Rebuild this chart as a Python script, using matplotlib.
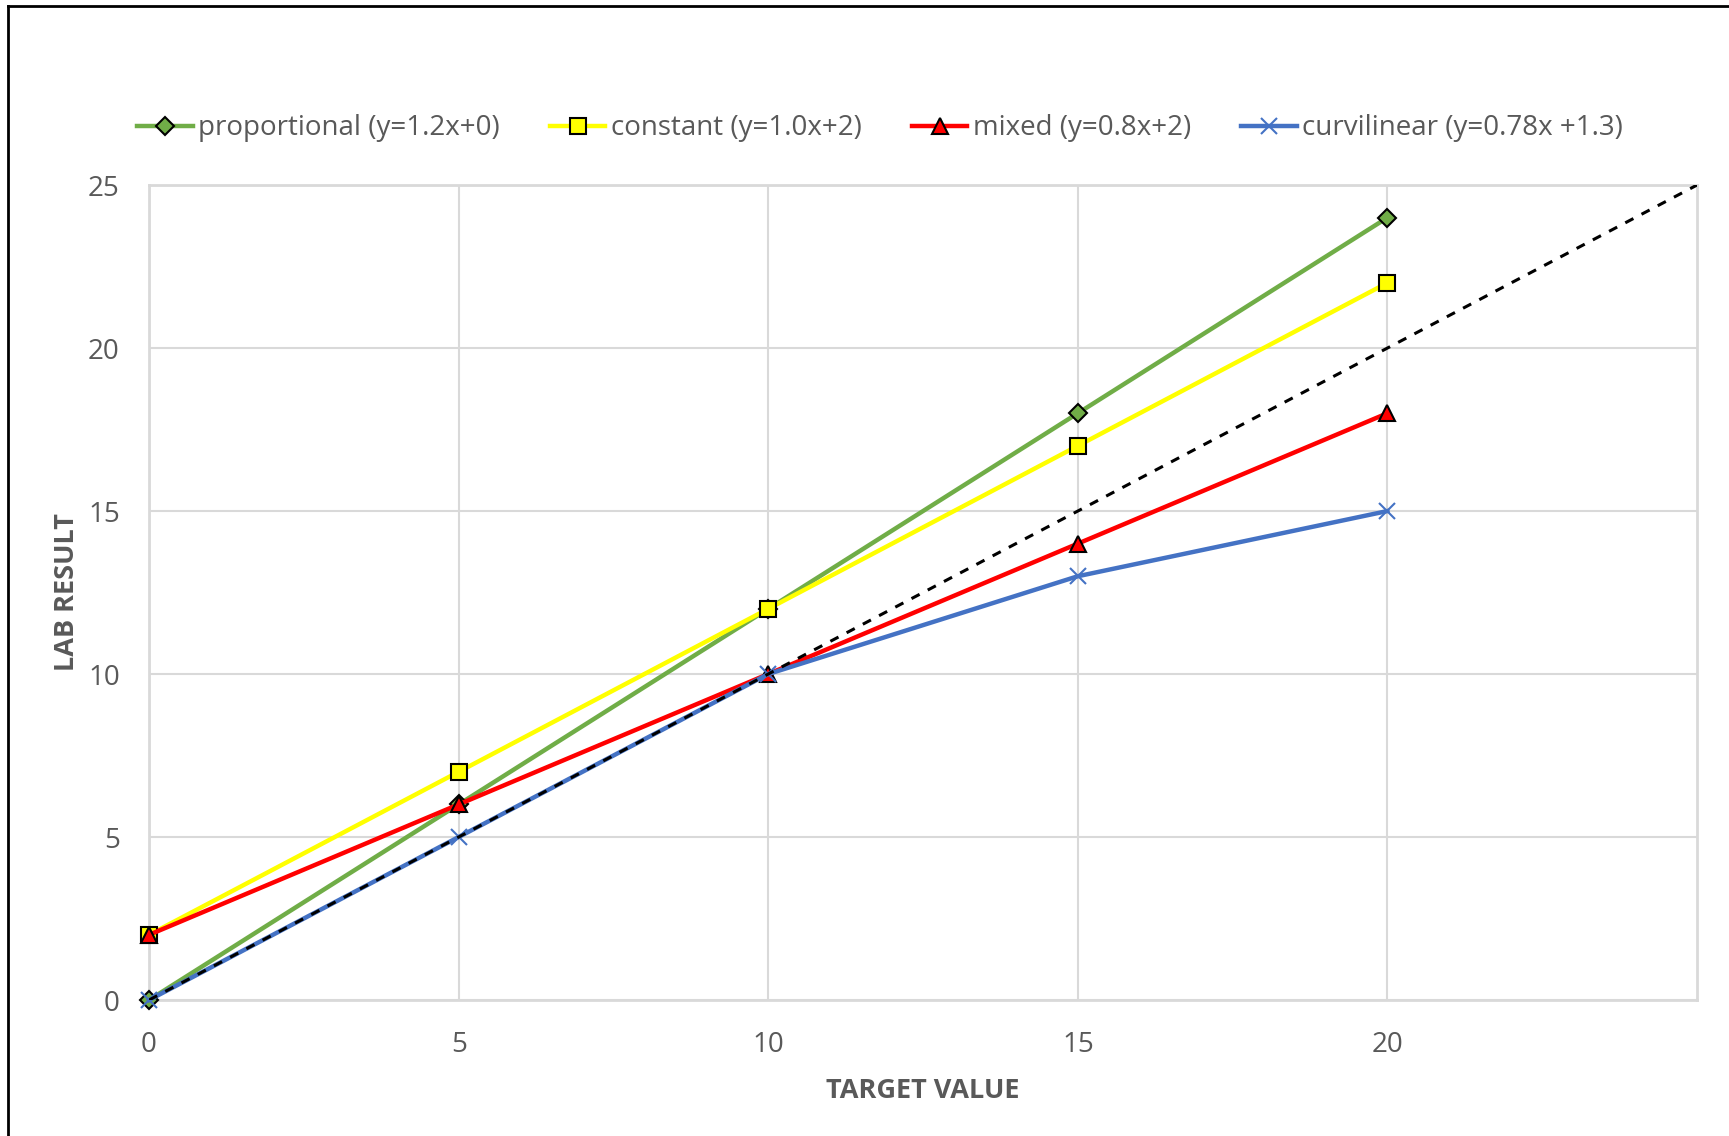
import matplotlib
matplotlib.use("Agg")
import matplotlib.pyplot as plt
from matplotlib.lines import Line2D

# data
target = [0, 5, 10, 15, 20]
proportional = [0, 6, 12, 18, 24]
constant = [2, 7, 12, 17, 22]
mixed = [2, 6, 10, 14, 18]
curvilinear = [0, 5, 10, 13, 15]
identity_x = [0, 25]

labels = ["proportional (y=1.2x+0)", "constant (y=1.0x+2)",
          "mixed (y=0.8x+2)", "curvilinear (y=0.78x +1.3)"]

plt.rcParams['font.family'] = ['Open Sans', 'DejaVu Sans']
gray = '#595959'
grid = '#d9d9d9'

fig = plt.figure(figsize=(17.29, 11.36), dpi=100)
ax = fig.add_axes([0.0862, 0.1197, 0.8953, 0.7174])

lw = 3.2
ax.plot(target, proportional, color='#70ad47', lw=lw, marker='D', ms=9.5,
        mfc='#70ad47', mec='black', mew=1.5, label=labels[0], zorder=3, clip_on=False)
ax.plot(target, constant, color='#ffff00', lw=lw, marker='s', ms=12,
        mfc='#ffff00', mec='black', mew=1.5, label=labels[1], zorder=4, clip_on=False)
ax.plot(target, mixed, color='#ff0000', lw=lw, marker='^', ms=12,
        mfc='#ff0000', mec='black', mew=1.5, label=labels[2], zorder=5, clip_on=False)
ax.plot(target, curvilinear, color='#4472c4', lw=lw, marker='x', ms=12,
        mew=1.5, label=labels[3], zorder=6, clip_on=False)
# line of identity
ax.plot(identity_x, identity_x, color='black', lw=2.2, ls=(0, (3, 3)), zorder=7)

ax.set_xlim(0, 25)
ax.set_ylim(0, 25)
ax.set_xticks([0, 5, 10, 15, 20])
ax.set_yticks([0, 5, 10, 15, 20, 25])
ax.grid(True, color=grid, lw=1.5)
ax.set_axisbelow(True)
for s in ax.spines.values():
    s.set_color(grid)
    s.set_linewidth(2)
ax.tick_params(length=0, labelsize=20, colors=gray)
ax.tick_params(axis='x', pad=22)
ax.tick_params(axis='y', pad=21)

ax.set_xlabel("TARGET VALUE", fontsize=19.5, fontweight='bold', color=gray, labelpad=14)
ax.set_ylabel("LAB RESULT", fontsize=19.5, fontweight='bold', color=gray, labelpad=6)

fig.legend(loc='center', bbox_to_anchor=(0.509, 0.887), ncol=4, frameon=False,
           fontsize=20, labelcolor=gray, handlelength=2.0, handletextpad=0.2,
           columnspacing=1.8)

# outer border (left/top visible in the reference)
fig.add_artist(Line2D([0.0045, 0.0045], [0, 0.995], color='black', lw=2,
                      transform=fig.transFigure))
fig.add_artist(Line2D([0.0045, 1.0], [0.995, 0.995], color='black', lw=2,
                      transform=fig.transFigure))

fig.savefig("out.png", dpi=100)
